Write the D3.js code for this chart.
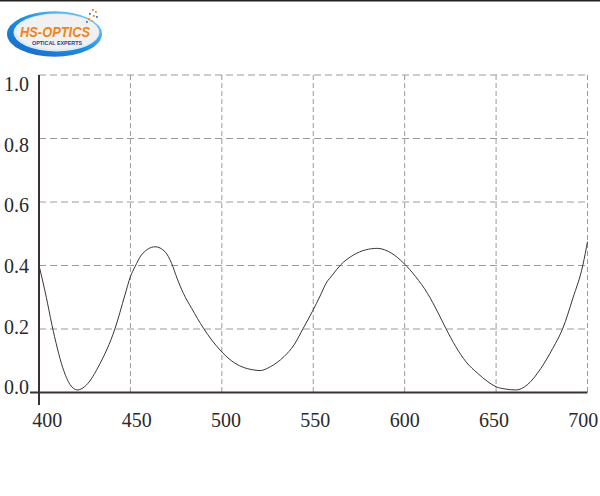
<!DOCTYPE html>
<html>
<head>
<meta charset="utf-8">
<script src="https://cdn.jsdelivr.net/npm/d3@7/dist/d3.min.js"></script>
<style>
  html, body { margin: 0; padding: 0; background: #fff; }
  svg { display: block; }
</style>
</head>
<body>
<svg id="chart" width="600" height="496"></svg>
<script>
// ---- data ----
const wavelengths = [400, 404, 407, 410, 413, 417, 421, 426, 433, 441.5, 447, 450, 452.5, 456, 463.5, 469, 472.5, 475.5, 479, 483.5, 490, 494.5, 499, 505.5, 511, 517.5, 521, 526.5, 534, 539.5, 544.5, 549.5, 554, 557, 560.5, 565, 572, 578.5, 585, 593, 599.5, 606, 612.5, 618, 622.5, 628, 633.5, 640, 645.5, 650, 655, 661, 667, 674.5, 681, 686.5, 692, 697.5, 700];
const values = [0.40, 0.30, 0.215, 0.14, 0.078, 0.025, 0.008, 0.024, 0.087, 0.20, 0.307, 0.365, 0.396, 0.433, 0.459, 0.443, 0.407, 0.36, 0.312, 0.265, 0.202, 0.165, 0.134, 0.099, 0.081, 0.071, 0.069, 0.081, 0.113, 0.150, 0.202, 0.255, 0.307, 0.344, 0.370, 0.402, 0.433, 0.449, 0.454, 0.438, 0.407, 0.365, 0.312, 0.254, 0.202, 0.144, 0.097, 0.060, 0.034, 0.018, 0.011, 0.008, 0.024, 0.076, 0.139, 0.202, 0.297, 0.402, 0.475];
const xTicks = [400, 450, 500, 550, 600, 650, 700];
const yTicks = [0.0, 0.2, 0.4, 0.6, 0.8, 1.0];
const logoTitle = "HS-OPTICS";
const logoSubtitle = "OPTICAL EXPERTS";

const svg = d3.select("#chart");

// scales
const x = d3.scaleLinear().domain([400, 700]).range([39, 587.5]);
const y = d3.scaleLinear().domain([0, 1]).range([392.5, 75]);
// label placement scales (labels in the reference sit slightly off the grid)
const xLab = d3.scaleLinear().domain([400, 700]).range([46.8, 582.8]);
const yLab = d3.scaleLinear().domain([0, 1]).range([387, 84]);

// top border line
svg.append("line").attr("x1", 0).attr("x2", 600).attr("y1", 0.75).attr("y2", 0.75)
  .attr("stroke", "#222").attr("stroke-width", 1.5);

// ---- logo ----
const defs = svg.append("defs");
const g1 = defs.append("linearGradient").attr("id", "ring").attr("x1", "0").attr("y1", "1").attr("x2", "1").attr("y2", "0");
g1.append("stop").attr("offset", "0").attr("stop-color", "#1565c8");
g1.append("stop").attr("offset", "0.5").attr("stop-color", "#1e8fe0");
g1.append("stop").attr("offset", "1").attr("stop-color", "#8fd4f5");
const logo = svg.append("g");
logo.append("ellipse").attr("cx", 54.5).attr("cy", 34).attr("rx", 47.5).attr("ry", 22.8).attr("fill", "url(#ring)");
logo.append("ellipse").attr("cx", 56.5).attr("cy", 32.5).attr("rx", 43).attr("ry", 19).attr("fill", "#d8ecf8");
logo.append("ellipse").attr("cx", 57.5).attr("cy", 32).attr("rx", 41).attr("ry", 17.5).attr("fill", "#f1f1f1");
logo.append("text").attr("x", 20).attr("y", 37).text(logoTitle)
  .attr("font-family", "Liberation Sans, Arial, sans-serif").attr("font-weight", "bold").attr("font-style", "italic")
  .attr("font-size", 15.5).attr("fill", "#f0841a").attr("textLength", 70).attr("lengthAdjust", "spacingAndGlyphs");
logo.append("text").attr("x", 32).attr("y", 45).text(logoSubtitle)
  .attr("font-family", "Liberation Sans, Arial, sans-serif").attr("font-weight", "bold")
  .attr("font-size", 5.2).attr("fill", "#1f3f95").attr("textLength", 50).attr("lengthAdjust", "spacingAndGlyphs");
// decorative dots
const dots = [[92, 9, "#f08a1c"], [95, 11, "#f08a1c"], [89, 13, "#3a7bd5"], [93, 15, "#f08a1c"], [88, 18, "#f08a1c"], [96, 16, "#3a7bd5"], [91, 20, "#f0a040"], [86, 21, "#3a7bd5"]];
logo.selectAll("rect.dot").data(dots).enter().append("rect").attr("class", "dot")
  .attr("x", d => d[0]).attr("y", d => d[1]).attr("width", 1.8).attr("height", 1.8).attr("fill", d => d[2]);

// ---- gridlines ----
const grid = svg.append("g");
grid.selectAll("line.h").data(yTicks.filter(v => v > 0)).enter().append("line").attr("class", "h")
  .attr("x1", x(400)).attr("x2", x(700)).attr("y1", d => y(d)).attr("y2", d => y(d))
  .attr("stroke", "#9a9a9a").attr("stroke-width", 1).attr("stroke-dasharray", "7,4");
grid.selectAll("line.v").data(xTicks.filter(v => v > 400)).enter().append("line").attr("class", "v")
  .attr("x1", d => x(d)).attr("x2", d => x(d)).attr("y1", y(1)).attr("y2", y(0))
  .attr("stroke", "#9a9a9a").attr("stroke-width", 1).attr("stroke-dasharray", "5,3");

// ---- curve ----
const data = wavelengths.map((w, i) => ({ w, v: values[i] }));
svg.append("path").datum(data)
  .attr("fill", "none").attr("stroke", "#3a3535").attr("stroke-width", 1)
  .attr("d", d3.line().x(d => x(d.w)).y(d => y(d.v)).curve(d3.curveMonotoneX));

// ---- axis lines ----
svg.append("line").attr("x1", 30).attr("x2", x(700)).attr("y1", y(0)).attr("y2", y(0))
  .attr("stroke", "#3a3232").attr("stroke-width", 2);
svg.append("line").attr("x1", x(400)).attr("x2", x(400)).attr("y1", y(1)).attr("y2", 405)
  .attr("stroke", "#3a3232").attr("stroke-width", 2);

// ---- tick labels ----
const xAxis = svg.append("g").attr("transform", "translate(0,410)")
  .call(d3.axisBottom(xLab).tickValues(xTicks).tickSize(0).tickPadding(0).tickFormat(d3.format("d")));
xAxis.select(".domain").remove();
xAxis.selectAll("text").attr("font-family", "Liberation Serif, Times New Roman, serif").attr("font-size", 20)
  .attr("fill", "#2a2a2a").attr("dy", "0.85em");

const yAxis = svg.append("g").attr("transform", "translate(29,0)")
  .call(d3.axisLeft(yLab).tickValues(yTicks).tickSize(0).tickPadding(0).tickFormat(d3.format(".1f")));
yAxis.select(".domain").remove();
yAxis.selectAll("text").attr("font-family", "Liberation Serif, Times New Roman, serif").attr("font-size", 20)
  .attr("fill", "#2a2a2a").attr("dy", "0.33em");
</script>
</body>
</html>
